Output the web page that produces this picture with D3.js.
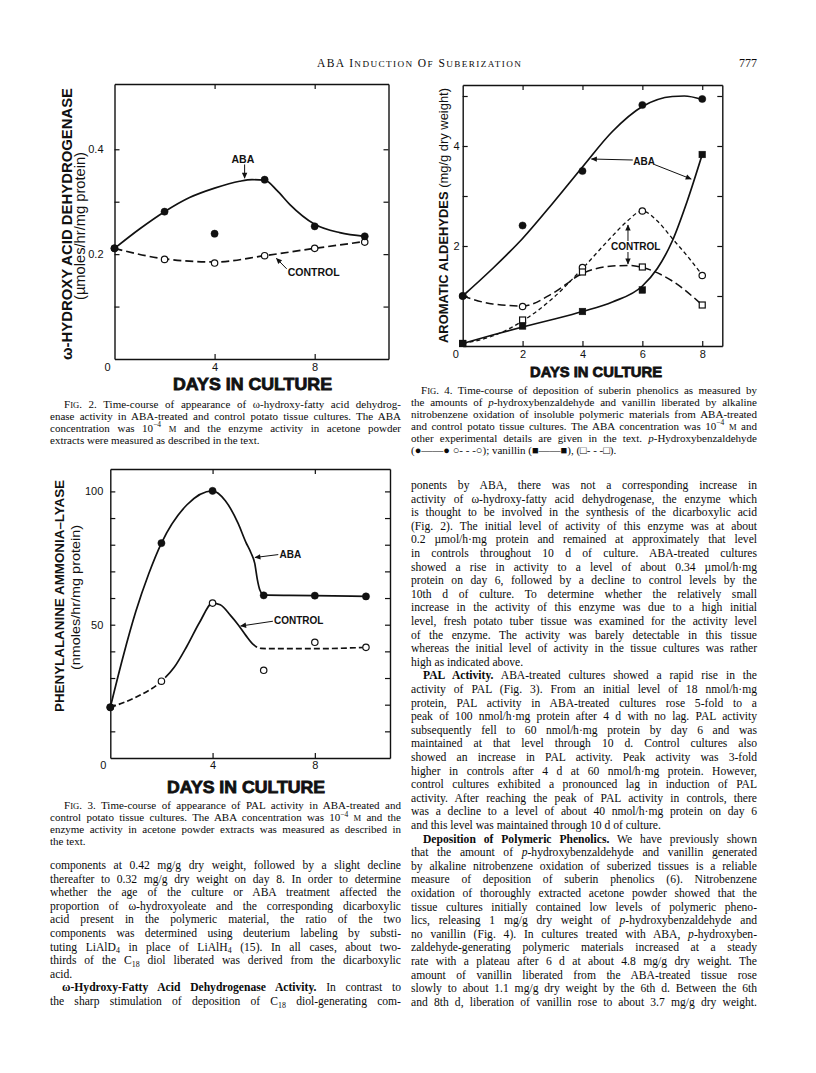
<!DOCTYPE html>
<html>
<head>
<meta charset="utf-8">
<script src="https://cdn.jsdelivr.net/npm/d3@7"></script>
<style>
    body { margin: 0; background: #fff; }
    svg { display: block; }
    .serif { font-family: "Liberation Serif", "Times New Roman", serif; fill: #0a0a0a; white-space: pre; }
    .sans { font-family: "Liberation Sans", Arial, sans-serif; fill: #111; }
</style>
</head>
<body>
<svg id="page" width="816" height="1073"></svg>
<script>
// ---------- values ----------

// Fig. 2  w-hydroxy acid dehydrogenase
const fig2Days = [0, 2, 4, 6, 8, 10];
const fig2Aba = [0.211, 0.281, 0.239, 0.342, 0.253, 0.234];
const fig2Control = [0.211, 0.190, 0.183, 0.197, 0.211, 0.223];
// hand drawn curves (knots along the drawn line)
const fig2AbaCurveX = [0, 1, 2, 3, 4, 5, 5.5, 6, 6.5, 7, 8, 9, 10];
const fig2AbaCurveY = [0.211, 0.248, 0.281, 0.308, 0.326, 0.339, 0.342, 0.341, 0.321, 0.295, 0.257, 0.241, 0.234];
const fig2CtlCurveX = [0, 2, 4, 6, 8, 10];
const fig2CtlCurveY = [0.211, 0.191, 0.185, 0.197, 0.211, 0.224];
const fig2YTicks = [0.1, 0.2, 0.3, 0.4];
const fig2YLabels = [0.2, 0.4];
const fig2XTicks = [4, 8];

// Fig. 3  PAL
const fig3Days = [0, 2, 4, 6, 8, 10];
const fig3Aba = [19, 80.6, 100.2, 61.0, 60.9, 60.6];
const fig3Control = [19, 28.8, 58.1, 32.9, 43.4, 41.5];
const fig3AbaCurveX = [0, 0.5, 1, 1.5, 2, 3, 4, 4.5, 5, 5.3, 5.5, 5.65, 5.75, 5.85, 6, 7, 8, 10];
const fig3AbaCurveY = [19, 38, 55, 69, 80.6, 95, 100.2, 96.5, 88, 81, 77, 73, 67, 63, 61.2, 61, 60.9, 60.6];
const fig3CtlCurveX = [0, 1, 2, 2.5, 3, 3.5, 4, 4.3, 4.7, 5, 5.3, 5.6, 5.9, 6.5, 8, 10];
const fig3CtlCurveY = [19, 22.8, 28.8, 34, 42, 51, 58.1, 57.5, 53.5, 50, 46, 42.5, 41.1, 41, 41, 41.5];
const fig3YTicks = [10, 20, 30, 40, 50, 60, 70, 80, 90, 100];
const fig3YLabels = [50, 100];
const fig3XTicks = [4, 8];

// Fig. 4  aromatic aldehydes
const fig4Days = [0, 2, 4, 6, 8];
const fig4HbaAba = [1.0, 2.41, 3.5, 4.82, 4.94];
const fig4HbaControl = [1.0, 0.79, 1.57, 2.7, 1.41];
const fig4VanAba = [0.05, 0.4, 0.69, 1.12, 3.83];
const fig4VanControl = [0.05, 0.52, 1.48, 1.58, 0.82];
const fig4HbaAbaCurveX = [0, 1, 2, 3, 4, 5, 6, 7, 7.4, 8];
const fig4HbaAbaCurveY = [1.0, 1.55, 2.15, 2.85, 3.58, 4.29, 4.79, 4.99, 5.0, 4.93];
const fig4CtlACurveX = [0, 1, 2, 3, 4, 5, 5.6, 6, 7, 8];
const fig4CtlACurveY = [1.0, 0.84, 0.8, 1.05, 1.45, 1.6, 1.61, 1.57, 1.3, 0.82];
const fig4CtlBCurveX = [0, 1, 2, 3, 4, 5, 5.5, 6, 6.5, 7, 7.5, 8];
const fig4CtlBCurveY = [0.05, 0.2, 0.5, 0.95, 1.55, 2.2, 2.5, 2.7, 2.5, 2.15, 1.8, 1.42];
const fig4VanAbaCurveX = [0, 1, 2, 3, 4, 5, 6, 6.5, 7, 7.5, 8];
const fig4VanAbaCurveY = [0.05, 0.22, 0.38, 0.53, 0.69, 0.88, 1.2, 1.55, 2.1, 2.9, 3.83];
const fig4YTicks = [1, 2, 3, 4, 5];
const fig4YLabels = [2, 4];
const fig4XTicks = [2, 4, 6, 8];

// ---------- text of the page ----------
// markup: **bold**  *italic*  ^sup^  _sub_  %small caps%   ">" = indent, "<" = not justified
const fig2Caption = [
    ">F%IG%. 2. Time-course of appearance of ω-hydroxy-fatty acid dehydrog-",
    "enase activity in ABA-treated and control potato tissue cultures. The ABA",
    "concentration was 10^−4^ %M% and the enzyme activity in acetone powder",
    "extracts were measured as described in the text.<"
];
const fig3Caption = [
    ">F%IG%. 3. Time-course of appearance of PAL activity in ABA-treated and",
    "control potato tissue cultures. The ABA concentration was 10^−4^ %M% and the",
    "enzyme activity in acetone powder extracts was measured as described in",
    "the text.<"
];
const fig4Caption = [
    ">F%IG%. 4. Time-course of deposition of suberin phenolics as measured by",
    "the amounts of *p*-hydroxybenzaldehyde and vanillin liberated by alkaline",
    "nitrobenzene oxidation of insoluble polymeric materials from ABA-treated",
    "and control potato tissue cultures. The ABA concentration was 10^−4^ %M% and",
    "other experimental details are given in the text. *p*-Hydroxybenzaldehyde",
    "(●——● ○- - -○); vanillin (■——■), (□- - -□).<"
];
const leftBody = [
    "components at 0.42 mg/g dry weight, followed by a slight decline",
    "thereafter to 0.32 mg/g dry weight on day 8. In order to determine",
    "whether the age of the culture or ABA treatment affected the",
    "proportion of ω-hydroxyoleate and the corresponding dicarboxylic",
    "acid present in the polymeric material, the ratio of the two",
    "components was determined using deuterium labeling by substi-",
    "tuting LiAlD_4_ in place of LiAlH_4_ (15). In all cases, about two-",
    "thirds of the C_18_ diol liberated was derived from the dicarboxylic",
    "acid.<",
    ">**ω-Hydroxy-Fatty Acid Dehydrogenase Activity.** In contrast to",
    "the sharp stimulation of deposition of C_18_ diol-generating com-"
];
const rightBody = [
    "ponents by ABA, there was not a corresponding increase in",
    "activity of ω-hydroxy-fatty acid dehydrogenase, the enzyme which",
    "is thought to be involved in the synthesis of the dicarboxylic acid",
    "(Fig. 2). The initial level of activity of this enzyme was at about",
    "0.2 µmol/h·mg protein and remained at approximately that level",
    "in controls throughout 10 d of culture. ABA-treated cultures",
    "showed a rise in activity to a level of about 0.34 µmol/h·mg",
    "protein on day 6, followed by a decline to control levels by the",
    "10th d of culture. To determine whether the relatively small",
    "increase in the activity of this enzyme was due to a high initial",
    "level, fresh potato tuber tissue was examined for the activity level",
    "of the enzyme. The activity was barely detectable in this tissue",
    "whereas the initial level of activity in the tissue cultures was rather",
    "high as indicated above.<",
    ">**PAL Activity.** ABA-treated cultures showed a rapid rise in the",
    "activity of PAL (Fig. 3). From an initial level of 18 nmol/h·mg",
    "protein, PAL activity in ABA-treated cultures rose 5-fold to a",
    "peak of 100 nmol/h·mg protein after 4 d with no lag. PAL activity",
    "subsequently fell to 60 nmol/h·mg protein by day 6 and was",
    "maintained at that level through 10 d. Control cultures also",
    "showed an increase in PAL activity. Peak activity was 3-fold",
    "higher in controls after 4 d at 60 nmol/h·mg protein. However,",
    "control cultures exhibited a pronounced lag in induction of PAL",
    "activity. After reaching the peak of PAL activity in controls, there",
    "was a decline to a level of about 40 nmol/h·mg protein on day 6",
    "and this level was maintained through 10 d of culture.<",
    ">**Deposition of Polymeric Phenolics.** We have previously shown",
    "that the amount of *p*-hydroxybenzaldehyde and vanillin generated",
    "by alkaline nitrobenzene oxidation of suberized tissues is a reliable",
    "measure of deposition of suberin phenolics (6). Nitrobenzene",
    "oxidation of thoroughly extracted acetone powder showed that the",
    "tissue cultures initially contained low levels of polymeric pheno-",
    "lics, releasing 1 mg/g dry weight of *p*-hydroxybenzaldehyde and",
    "no vanillin (Fig. 4). In cultures treated with ABA, *p*-hydroxyben-",
    "zaldehyde-generating polymeric materials increased at a steady",
    "rate with a plateau after 6 d at about 4.8 mg/g dry weight. The",
    "amount of vanillin liberated from the ABA-treated tissue rose",
    "slowly to about 1.1 mg/g dry weight by the 6th d. Between the 6th",
    "and 8th d, liberation of vanillin rose to about 3.7 mg/g dry weight."
];

// ---------- drawing ----------
const svg = d3.select('#page');
svg.append('rect').attr('width', 816).attr('height', 1073).attr('fill', '#fff');

svg.append('defs').append('marker')
    .attr('id', 'arr')
    .attr('viewBox', '0 0 10 10')
    .attr('refX', 9).attr('refY', 5)
    .attr('markerWidth', 7).attr('markerHeight', 6)
    .attr('markerUnits', 'userSpaceOnUse')
    .attr('orient', 'auto')
    .append('path')
    .attr('d', 'M0,0.5 L10,5 L0,9.5 Z')
    .attr('fill', '#111');

function parseLine(str) {
    return str.split(/(\*\*[^*]+\*\*|\*[^*]+\*|\^[^^]+\^|_[^_]+_|%[^%]+%)/)
        .filter(s => s.length)
        .map(s => {
            if (s.startsWith('**')) return {t: s.slice(2, -2), k: 'b'};
            if (s.startsWith('*')) return {t: s.slice(1, -1), k: 'i'};
            if (s.startsWith('^')) return {t: s.slice(1, -1), k: 'sup'};
            if (s.startsWith('_')) return {t: s.slice(1, -1), k: 'sub'};
            if (s.startsWith('%')) return {t: s.slice(1, -1), k: 'sc'};
            return {t: s, k: ''};
        });
}

// one text element per printed line, justified with word-spacing
function textBlock(lines, o) {
    lines.forEach((raw, i) => {
        let s = raw, indent = 0, justify = true;
        if (s.startsWith('>')) { indent = o.indent; s = s.slice(1); }
        if (s.endsWith('<')) { justify = false; s = s.slice(0, -1); }
        let t = svg.append('text')
            .attr('class', 'serif')
            .attr('x', o.x + indent)
            .attr('y', o.y + i * o.lh)
            .attr('font-size', o.size);
        let cur = 0;
        parseLine(s).forEach(p => {
            let sp = t.append('tspan').text(p.t);
            let target = 0;
            if (p.k === 'b') sp.attr('font-weight', 'bold');
            if (p.k === 'i') sp.attr('font-style', 'italic');
            if (p.k === 'sc') sp.attr('font-size', o.size * 0.78);
            if (p.k === 'sup') { sp.attr('font-size', o.size * 0.68); target = -o.size * 0.38; }
            if (p.k === 'sub') { sp.attr('font-size', o.size * 0.68); target = o.size * 0.22; }
            if (target - cur) sp.attr('dy', target - cur);
            cur = target;
        });
        if (justify) {
            let w = t.node().getComputedTextLength();
            let n = (s.match(/ /g) || []).length;
            if (n) t.attr('word-spacing', (o.width - indent - w) / n);
        }
    });
}

// dashed path that is drawn solid between two x values
function partDash(path, x, from, to, dash, gap) {
    let node = path.node(), L = node.getTotalLength();
    let l1 = 0, l2 = L;
    for (let l = 0; l <= L; l += 0.5) {
        let p = node.getPointAtLength(l);
        if (p.x < x(from)) l1 = l;
        if (p.x <= x(to)) l2 = l;
    }
    let arr = [], pos = 0;
    while (pos < l1) { arr.push(dash, gap); pos += dash + gap; }
    arr.push(l2 - pos, gap);
    pos = l2 + gap;
    while (pos < L) { arr.push(dash, gap); pos += dash + gap; }
    path.attr('stroke-dasharray', arr.join(' '));
}

function drawFigure(cfg) {
    let x = d3.scaleLinear().domain(cfg.xDomain).range(cfg.xRange);
    let y = d3.scaleLinear().domain(cfg.yDomain).range(cfg.yRange);
    let g = svg.append('g').attr('class', 'figure');
    let [left, right] = cfg.xRange;
    let [bottom, top] = cfg.yRange;
    let fmtY = d => cfg.yLabels.some(v => Math.abs(v - d) < 1e-9) ? cfg.yFmt(d) : '';

    // frame and ticks (inward)
    g.append('g').attr('transform', `translate(${left},0)`)
        .call(d3.axisLeft(y).tickValues(cfg.yTicks).tickSize(-5).tickSizeOuter(0).tickPadding(cfg.yPad).tickFormat(fmtY));
    g.append('g').attr('transform', `translate(${right},0)`)
        .call(d3.axisRight(y).tickValues(cfg.yTicks).tickSize(-5).tickSizeOuter(0).tickFormat(''));
    g.append('g').attr('transform', `translate(0,${bottom})`)
        .call(d3.axisBottom(x).tickValues(cfg.xTicks).tickSize(-5).tickSizeOuter(0).tickPadding(cfg.xPad).tickFormat(d => d));
    g.append('g').attr('transform', `translate(0,${top})`)
        .call(d3.axisTop(x).tickValues(cfg.xTicks).tickSize(-5).tickSizeOuter(0).tickFormat(''));
    g.selectAll('.domain').attr('stroke', '#111').attr('stroke-width', 1.4);
    g.selectAll('.tick line').attr('stroke', '#111').attr('stroke-width', 1.2);
    g.selectAll('.tick text')
        .attr('font-family', '"Liberation Sans", Arial, sans-serif')
        .attr('font-size', 11)
        .attr('fill', '#111');

    // the "0" sits left of the corner
    g.append('text').attr('class', 'sans')
        .attr('x', x(0) - 7).attr('y', bottom + cfg.xPad)
        .attr('dy', '0.71em')
        .attr('text-anchor', 'middle')
        .attr('font-size', 11)
        .text('0');

    // x title
    g.append('text').attr('class', 'sans')
        .attr('x', cfg.xTitle.x).attr('y', cfg.xTitle.y)
        .attr('text-anchor', 'middle')
        .attr('font-size', cfg.xTitle.size)
        .attr('font-weight', 'bold')
        .attr('stroke', '#111').attr('stroke-width', 0.8)
        .attr('textLength', cfg.xTitle.len).attr('lengthAdjust', 'spacingAndGlyphs')
        .text('DAYS IN CULTURE');

    // y titles, rotated
    cfg.yTitles.forEach(yt => {
        let t = g.append('text').attr('class', 'sans')
            .attr('transform', `translate(${yt.x},${yt.y}) rotate(-90)`)
            .attr('text-anchor', 'middle')
            .attr('font-size', yt.size)
            .attr('textLength', yt.len).attr('lengthAdjust', 'spacingAndGlyphs');
        yt.parts.forEach(p => {
            t.append('tspan').attr('font-weight', p.bold ? 'bold' : 'normal').text(p.t);
        });
    });

    // curves
    let line = d3.line().x(d => x(d[0])).y(d => y(d[1])).curve(d3.curveMonotoneX);
    cfg.curves.forEach(c => {
        let p = g.append('path')
            .datum(d3.zip(c.x, c.y))
            .attr('d', line)
            .attr('fill', 'none')
            .attr('stroke', '#111')
            .attr('stroke-width', c.w || 1.7);
        if (c.dash) p.attr('stroke-dasharray', c.dash);
        if (c.solid) partDash(p, x, c.solid[0], c.solid[1], 6, 3);
    });

    // symbols
    cfg.series.forEach(s => {
        let pts = d3.zip(s.x, s.y);
        if (s.sym === 'dot' || s.sym === 'ring') {
            g.selectAll(null).data(pts).enter().append('circle')
                .attr('cx', d => x(d[0])).attr('cy', d => y(d[1]))
                .attr('r', s.sym === 'dot' ? 3.6 : 3.2)
                .attr('fill', s.sym === 'dot' ? '#111' : '#fff')
                .attr('stroke', '#111').attr('stroke-width', s.sym === 'dot' ? 0.5 : 1.2);
        } else {
            let a = s.sym === 'square' ? 6.6 : 6;
            g.selectAll(null).data(pts).enter().append('rect')
                .attr('x', d => x(d[0]) - a / 2).attr('y', d => y(d[1]) - a / 2)
                .attr('width', a).attr('height', a)
                .attr('fill', s.sym === 'square' ? '#111' : '#fff')
                .attr('stroke', '#111').attr('stroke-width', s.sym === 'square' ? 0.5 : 1.2);
        }
    });

    // labels with arrows
    cfg.notes.forEach(n => {
        g.append('text').attr('class', 'sans')
            .attr('x', x(n.at[0])).attr('y', y(n.at[1]))
            .attr('dy', '0.36em')
            .attr('text-anchor', n.anchor)
            .attr('font-size', n.size)
            .attr('font-weight', 'bold')
            .text(n.label);
        n.arrows.forEach(a => {
            g.append('line')
                .attr('x1', x(a[0])).attr('y1', y(a[1]))
                .attr('x2', x(a[2])).attr('y2', y(a[3]))
                .attr('stroke', '#111').attr('stroke-width', 1)
                .attr('marker-end', 'url(#arr)');
        });
    });
}

// running head
let head = svg.append('text').attr('class', 'serif')
    .attr('x', 419).attr('y', 66.5)
    .attr('text-anchor', 'middle')
    .attr('font-size', 11.5)
    .attr('textLength', 204).attr('lengthAdjust', 'spacing');
parseLine('ABA I%NDUCTION% O%F% S%UBERIZATION%').forEach(p => {
    head.append('tspan').attr('font-size', p.k === 'sc' ? 11.5 * 0.8 : null).text(p.t);
});
svg.append('text').attr('class', 'serif')
    .attr('x', 757).attr('y', 66.5)
    .attr('text-anchor', 'end')
    .attr('font-size', 12)
    .text('777');

// Fig. 2
drawFigure({
    xDomain: [0, 10.95], xRange: [114.5, 388.5],
    yDomain: [0, 0.5245], yRange: [359, 84],
    yTicks: fig2YTicks, yLabels: fig2YLabels, yFmt: d3.format('.1f'), yPad: 11,
    xTicks: fig2XTicks, xPad: 4,
    xTitle: {x: 252.5, y: 390, size: 17, len: 159},
    yTitles: [
        {x: 72, y: 224, size: 15, len: 272, parts: [{t: 'ω-HYDROXY ACID DEHYDROGENASE', bold: true}]},
        {x: 84.5, y: 226, size: 14, len: 148, parts: [{t: '(µmoles/hr/mg protein)'}]}
    ],
    curves: [
        {x: fig2AbaCurveX, y: fig2AbaCurveY},
        {x: fig2CtlCurveX, y: fig2CtlCurveY, dash: '8,4'}
    ],
    series: [
        {x: fig2Days, y: fig2Control, sym: 'ring'},
        {x: fig2Days, y: fig2Aba, sym: 'dot'}
    ],
    notes: [
        {label: 'ABA', at: [5.13, 0.381], anchor: 'middle', size: 10.5, arrows: [[5.2, 0.371, 5.2, 0.345]]},
        {label: 'CONTROL', at: [6.92, 0.165], anchor: 'start', size: 10.5, arrows: [[6.88, 0.172, 6.47, 0.192]]}
    ]
});

// Fig. 4
drawFigure({
    xDomain: [0, 8.67], xRange: [462.7, 722.3],
    yDomain: [0, 5.22], yRange: [346, 85],
    yTicks: fig4YTicks, yLabels: fig4YLabels, yFmt: d => d, yPad: 3,
    xTicks: fig4XTicks, xPad: 4,
    xTitle: {x: 596, y: 376.5, size: 15, len: 132},
    yTitles: [
        {x: 448, y: 215.5, size: 13, len: 255, parts: [{t: 'AROMATIC ALDEHYDES ', bold: true}, {t: '(mg/g dry weight)'}]}
    ],
    curves: [
        {x: fig4HbaAbaCurveX, y: fig4HbaAbaCurveY},
        {x: fig4VanAbaCurveX, y: fig4VanAbaCurveY},
        {x: fig4CtlACurveX, y: fig4CtlACurveY, dash: '8,4', w: 1.5},
        {x: fig4CtlBCurveX, y: fig4CtlBCurveY, dash: '4,3', w: 1.3}
    ],
    series: [
        {x: fig4Days, y: fig4HbaControl, sym: 'ring'},
        {x: fig4Days, y: fig4VanControl, sym: 'box'},
        {x: fig4Days, y: fig4HbaAba, sym: 'dot'},
        {x: fig4Days, y: fig4VanAba, sym: 'square'}
    ],
    notes: [
        {label: 'ABA', at: [6.06, 3.69], anchor: 'middle', size: 10,
            arrows: [[5.68, 3.72, 4.3, 3.74], [6.4, 3.63, 7.63, 3.34]]},
        {label: 'CONTROL', at: [5.78, 1.99], anchor: 'middle', size: 10,
            arrows: [[5.52, 2.1, 5.52, 2.42], [5.52, 1.88, 5.52, 1.64]]}
    ]
});

// Fig. 3
drawFigure({
    xDomain: [0, 10.94], xRange: [110.3, 390],
    yDomain: [0, 108.4], yRange: [758, 469],
    yTicks: fig3YTicks, yLabels: fig3YLabels, yFmt: d => d, yPad: 7,
    xTicks: fig3XTicks, xPad: 3,
    xTitle: {x: 246, y: 793, size: 17, len: 158},
    yTitles: [
        {x: 64, y: 596, size: 13, len: 232, parts: [{t: 'PHENYLALANINE  AMMONIA–LYASE', bold: true}]},
        {x: 79.5, y: 597.5, size: 13.5, len: 145, parts: [{t: '(nmoles/hr/mg protein)'}]}
    ],
    curves: [
        {x: fig3AbaCurveX, y: fig3AbaCurveY},
        {x: fig3CtlCurveX, y: fig3CtlCurveY, solid: [2, 5.75]}
    ],
    series: [
        {x: fig3Days, y: fig3Control, sym: 'ring'},
        {x: fig3Days, y: fig3Aba, sym: 'dot'}
    ],
    notes: [
        {label: 'ABA', at: [6.62, 76.3], anchor: 'start', size: 10, arrows: [[6.57, 76.3, 5.66, 75.2]]},
        {label: 'CONTROL', at: [6.4, 51.5], anchor: 'start', size: 10, arrows: [[6.36, 51.3, 5.1, 49.5]]}
    ]
});

// captions and running text
textBlock(fig2Caption, {x: 50, y: 407.5, width: 351, lh: 12, size: 11, indent: 14});
textBlock(fig3Caption, {x: 50, y: 809, width: 351, lh: 12, size: 11, indent: 14});
textBlock(fig4Caption, {x: 411, y: 393.5, width: 346, lh: 12, size: 11, indent: 10});
textBlock(leftBody, {x: 50, y: 869, width: 351, lh: 13.6, size: 11.6, indent: 12});
textBlock(rightBody, {x: 411, y: 489, width: 346, lh: 13.6, size: 11.6, indent: 12});
</script>
</body>
</html>
